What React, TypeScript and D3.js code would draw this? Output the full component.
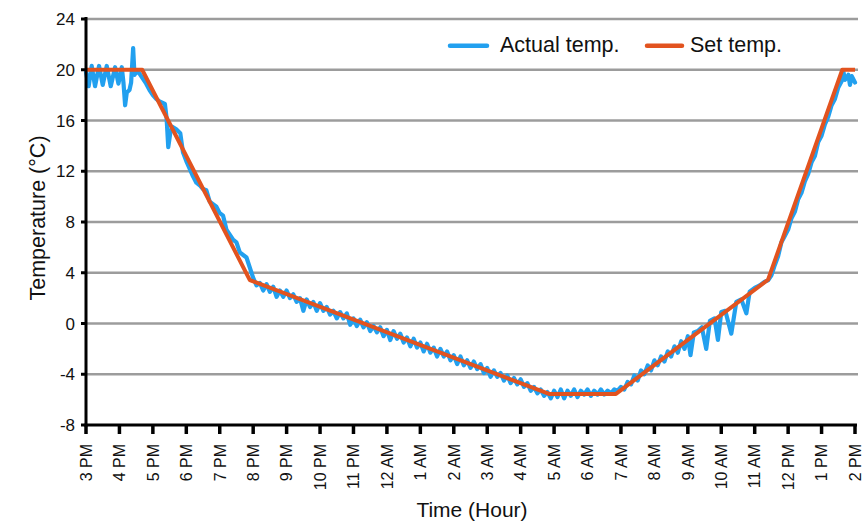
import React from "react";
import * as d3 from "d3";

// Hour offsets from 3 PM and their labels
const hourLabels = [
  "3 PM", "4 PM", "5 PM", "6 PM", "7 PM", "8 PM", "9 PM", "10 PM", "11 PM", "12 AM",
  "1 AM", "2 AM", "3 AM", "4 AM", "5 AM", "6 AM", "7 AM", "8 AM", "9 AM", "10 AM",
  "11 AM", "12 PM", "1 PM", "2 PM",
];
const tempTicks = [-8, -4, 0, 4, 8, 12, 16, 20, 24];

// Set-point schedule: [hours since 3 PM, °C]
const setTemp: [number, number][] = [
  [0, 20], [1.68, 20], [4.9, 3.42], [13.85, -5.55], [15.85, -5.55],
  [20.4, 3.45], [22.62, 20], [23, 20],
];

// Measured temperature: [hours since 3 PM, °C]
const actualTemp: [number, number][] = [
  [0, 19.8], [0.08, 18.7], [0.17, 20.3], [0.27, 18.7], [0.39, 20.3], [0.5, 18.8],
  [0.62, 20.3], [0.74, 18.7], [0.87, 20.2], [0.97, 18.9], [1.07, 20.2], [1.12, 19.0],
  [1.17, 17.2], [1.22, 18.2], [1.3, 18.4], [1.35, 19.0], [1.41, 21.7], [1.45, 19.6],
  [1.52, 19.9], [1.6, 19.7], [1.7, 19.3], [1.8, 18.9], [1.9, 18.4], [2.0, 18.0],
  [2.1, 17.7], [2.2, 17.5], [2.36, 17.3], [2.41, 16.2], [2.46, 13.9], [2.52, 15.0],
  [2.58, 15.5], [2.7, 15.3], [2.82, 15.0], [2.9, 13.5], [3.0, 12.8], [3.1, 12.2],
  [3.2, 11.6], [3.3, 11.1], [3.4, 10.9], [3.5, 10.6], [3.6, 10.5], [3.7, 9.6],
  [3.8, 9.4], [3.9, 9.2], [4.0, 8.7], [4.1, 8.5], [4.2, 7.4], [4.3, 7.0],
  [4.4, 6.6], [4.5, 6.4], [4.6, 5.6], [4.7, 5.4], [4.8, 5.2], [4.9, 4.4],
  [5.0, 3.6], [5.1, 3.0], [5.2, 3.2], [5.3, 2.6], [5.4, 3.1], [5.5, 2.5],
  [5.6, 2.9], [5.7, 2.1], [5.8, 2.6], [5.9, 2.1], [6.0, 2.6], [6.1, 2.0],
  [6.2, 2.3], [6.3, 1.7], [6.4, 2.0], [6.5, 1.0], [6.6, 1.9], [6.7, 1.3],
  [6.8, 1.7], [6.9, 1.0], [7.0, 1.6], [7.1, 1.0], [7.2, 1.3], [7.3, 0.7],
  [7.4, 1.0], [7.5, 0.4], [7.6, 0.9], [7.7, 0.4], [7.8, 0.8], [7.9, -0.1],
  [8.0, 0.4], [8.1, -0.2], [8.2, 0.3], [8.3, -0.3], [8.4, 0.1], [8.5, -0.6],
  [8.6, -0.2], [8.7, -0.7], [8.8, -0.3], [8.9, -1.0], [9.0, -0.5], [9.1, -1.3],
  [9.2, -0.6], [9.3, -1.2], [9.4, -0.8], [9.5, -1.5], [9.6, -1.1], [9.7, -1.8],
  [9.8, -1.2], [9.9, -1.9], [10.0, -1.5], [10.1, -2.2], [10.2, -1.6], [10.3, -2.3],
  [10.4, -1.9], [10.5, -2.6], [10.6, -2.0], [10.7, -2.6], [10.8, -2.2], [10.9, -2.9],
  [11.0, -2.5], [11.1, -3.2], [11.2, -2.6], [11.3, -3.3], [11.4, -2.9], [11.5, -3.5],
  [11.6, -3.0], [11.7, -3.6], [11.8, -3.2], [11.9, -3.9], [12.0, -3.5], [12.1, -4.2],
  [12.2, -3.7], [12.3, -4.2], [12.4, -3.9], [12.5, -4.5], [12.6, -4.1], [12.7, -4.7],
  [12.8, -4.3], [12.9, -4.8], [13.0, -4.4], [13.1, -5.0], [13.2, -4.7], [13.3, -5.3],
  [13.4, -5.0], [13.5, -5.5], [13.6, -5.2], [13.7, -5.7], [13.8, -5.4], [13.9, -5.9],
  [14.0, -5.3], [14.1, -5.8], [14.2, -5.2], [14.3, -5.9], [14.4, -5.3], [14.5, -5.7],
  [14.6, -5.2], [14.7, -5.8], [14.8, -5.3], [14.9, -5.6], [15.0, -5.2], [15.1, -5.7],
  [15.2, -5.3], [15.3, -5.6], [15.4, -5.2], [15.5, -5.6], [15.6, -5.3], [15.7, -5.5],
  [15.8, -5.2], [15.9, -5.3], [16.0, -5.0], [16.1, -5.2], [16.2, -4.6], [16.3, -4.8],
  [16.4, -4.1], [16.5, -4.5], [16.6, -3.7], [16.7, -4.0], [16.8, -3.3], [16.9, -3.7],
  [17.0, -2.9], [17.1, -3.3], [17.2, -2.6], [17.3, -3.0], [17.4, -2.2], [17.5, -2.6],
  [17.6, -1.8], [17.7, -2.3], [17.8, -1.4], [17.9, -2.0], [18.0, -1.0], [18.08, -2.5],
  [18.18, -0.7], [18.3, -0.6], [18.42, -0.3], [18.55, -2.0], [18.66, 0.2], [18.8, 0.4],
  [18.9, -1.3], [19.0, 0.9], [19.12, 1.0], [19.3, -0.8], [19.45, 1.7], [19.6, 1.9],
  [19.75, 0.8], [19.85, 2.5], [20.0, 2.8], [20.15, 3.0], [20.3, 3.3], [20.4, 3.4],
  [20.5, 3.8], [20.6, 4.6], [20.7, 5.3], [20.8, 6.4], [20.9, 6.9], [21.0, 7.4],
  [21.1, 8.3], [21.2, 8.8], [21.3, 9.8], [21.4, 10.3], [21.5, 11.2], [21.6, 11.8],
  [21.7, 12.7], [21.8, 13.2], [21.9, 14.3], [22.0, 14.8], [22.1, 15.7], [22.2, 16.3],
  [22.3, 17.2], [22.4, 17.7], [22.5, 18.6], [22.6, 19.1], [22.65, 19.9], [22.7, 19.2],
  [22.8, 19.6], [22.85, 18.8], [22.9, 19.5], [23.0, 19.0],
];

const W = 866;
const H = 527;
const FONT = "'Liberation Sans', Arial, Helvetica, sans-serif";
const BLUE = "#22a0ef";
const ORANGE = "#e2531f";

export default function App() {
  const x = d3.scaleLinear().domain([0, 23]).range([86, 855]);
  const y = d3.scaleLinear().domain([-8, 24]).range([425, 19]);

  const line = d3
    .line<[number, number]>()
    .x((d) => x(d[0]))
    .y((d) => y(d[1]));

  const [x0, x1] = x.range();

  return (
    <svg
      width={W}
      height={H}
      style={{ position: "absolute", left: 0, top: 0, background: "#fff" }}
      fontFamily={FONT}
    >
      {/* horizontal gridlines */}
      {tempTicks
        .filter((t) => t > -8)
        .map((t) => (
          <line
            key={`g${t}`}
            x1={x0}
            x2={x1 + 3}
            y1={y(t)}
            y2={y(t)}
            stroke="#9c9c9c"
            strokeWidth={2.5}
          />
        ))}

      {/* series */}
      <path
        d={line(actualTemp) ?? ""}
        fill="none"
        stroke={BLUE}
        strokeWidth={4.2}
        strokeLinejoin="round"
        strokeLinecap="round"
      />
      <path
        d={line(setTemp) ?? ""}
        fill="none"
        stroke={ORANGE}
        strokeWidth={4}
        strokeLinejoin="round"
      />

      {/* y axis */}
      <line x1={x0} x2={x0} y1={y(24) - 2} y2={y(-8) + 1.5} stroke="#000" strokeWidth={3} />
      {tempTicks.map((t) => (
        <g key={`yt${t}`}>
          <line x1={x0 - 5} x2={x0} y1={y(t)} y2={y(t)} stroke="#000" strokeWidth={3} />
          <text
            x={75}
            y={y(t)}
            dy="0.36em"
            textAnchor="end"
            fontSize={17}
            fill="#111"
          >
            {t}
          </text>
        </g>
      ))}

      {/* x axis */}
      <line x1={x0 - 1.5} x2={x1 + 2} y1={y(-8)} y2={y(-8)} stroke="#000" strokeWidth={3} />
      {hourLabels.map((lab, i) => (
        <g key={`xt${i}`}>
          <line
            x1={x(i)}
            x2={x(i)}
            y1={y(-8)}
            y2={y(-8) + 9}
            stroke="#000"
            strokeWidth={3.5}
          />
          <text
            transform={`translate(${x(i)},444) rotate(-90)`}
            dy="0.36em"
            textAnchor="end"
            fontSize={16}
            fill="#111"
          >
            {lab}
          </text>
        </g>
      ))}

      {/* axis titles */}
      <text
        transform="translate(37,218) rotate(-90)"
        dy="0.36em"
        textAnchor="middle"
        fontSize={21.5}
        fill="#111"
      >
        Temperature (°C)
      </text>
      <text x={472} y={517} textAnchor="middle" fontSize={21} fill="#111">
        Time (Hour)
      </text>

      {/* legend */}
      <line x1={450} x2={487} y1={45.7} y2={45.7} stroke={BLUE} strokeWidth={4.5} strokeLinecap="round" />
      <text x={500} y={52} fontSize={21.5} fill="#111">
        Actual temp.
      </text>
      <line x1={647} x2={682} y1={45.7} y2={45.7} stroke={ORANGE} strokeWidth={4.5} strokeLinecap="round" />
      <text x={690} y={52} fontSize={21.5} fill="#111">
        Set temp.
      </text>
    </svg>
  );
}
